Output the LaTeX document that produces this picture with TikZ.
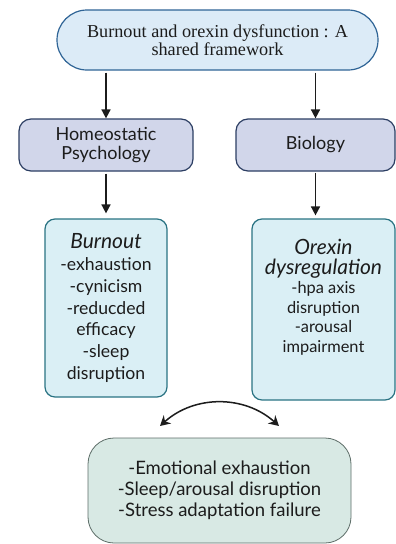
\documentclass[tikz,border=0pt]{standalone}
\usepackage{fontspec}
\setmainfont{Liberation Serif}
\setsansfont{Lato}
\usepackage{xcolor}
\usetikzlibrary{arrows.meta,positioning}

\definecolor{topfill}{HTML}{DCEBF7}
\definecolor{topline}{HTML}{2F6496}
\definecolor{midfill}{HTML}{D1D6EA}
\definecolor{midline}{HTML}{2C3E63}
\definecolor{lowfill}{HTML}{DAEFF5}
\definecolor{lowline}{HTML}{2A7383}
\definecolor{botfill}{HTML}{D8E9E4}
\definecolor{botline}{HTML}{5D6D68}
\definecolor{inkcol}{HTML}{1C1C1C}

\newcommand{\headtxt}[1]{{\itshape\fontsize{21}{24.5}\selectfont #1}}

\begin{document}
\begin{tikzpicture}[x=1pt, y=-1pt,
  topbox/.style={draw=topline, fill=topfill, line width=1.2pt, rounded corners=30pt,
                 align=center, text=inkcol, font=\fontsize{18.2}{17.5}\selectfont,
                 minimum width=321pt, minimum height=60pt, inner sep=0pt},
  midbox/.style={draw=midline, fill=midfill, line width=1.2pt, rounded corners=12pt,
                 align=center, text=inkcol, font=\sffamily\fontsize{18}{19.5}\selectfont,
                 minimum height=52pt, inner sep=0pt},
  lowbox/.style={draw=lowline, fill=lowfill, line width=1.2pt, rounded corners=10pt,
                 align=center, text=inkcol, inner sep=0pt},
  botbox/.style={draw=botline, fill=botfill, line width=0.8pt, rounded corners=26pt,
                 align=center, text=inkcol, font=\sffamily\fontsize{18.5}{21}\selectfont,
                 minimum width=263pt, minimum height=105pt, inner sep=0pt},
  arr/.style={-{Triangle[length=9pt, width=9pt]}, line width=1.6pt, draw=inkcol},
  dblarr/.style={{Stealth[length=10pt, width=11pt]}-{Stealth[length=10pt, width=11pt]},
                 line width=1.5pt, draw=inkcol}
]
\useasboundingbox (0,0) rectangle (396,544);

\node[topbox] (frame) at (217.5,40) {Burnout and orexin dysfunction : A\\shared framework};

\node[midbox, minimum width=174pt] (psy) at (106,145) {Homeostatic\\Psychology};
\node[midbox, minimum width=159pt] (bio) at (315.5,145) {Biology};

\node[lowbox, minimum width=122pt, minimum height=178pt,
      font=\sffamily\fontsize{17.6}{21.7}\selectfont] (burn) at (106,308)
  {\headtxt{Burnout}\\-exhaustion\\-cynicism\\-reducded\\efficacy\\-sleep\\disruption};
\node[lowbox, minimum width=143pt, minimum height=181pt,
      font=\sffamily\fontsize{16.4}{19.5}\selectfont] (orx) at (323.5,309.5)
  {\headtxt{Orexin}\\\headtxt{dysregulation}\\-hpa axis\\disruption\\-arousal\\impairment\\[8pt]\mbox{}};

\node[botbox] (common) at (219.5,490.5)
  {-Emotional exhaustion\\-Sleep/arousal disruption\\-Stress adaptation failure};

\coordinate (lend) at (160,426);
\coordinate (rend) at (279,426);

\draw[arr, shorten <=2pt] (frame.south -| psy.north) -- (psy.north);
\draw[arr, shorten <=2pt] (frame.south -| bio.north) -- (bio.north);
\draw[arr, shorten <=2pt, shorten >=5pt] (psy.south) -- (burn.north);
\draw[arr, shorten <=1pt, shorten >=3pt] (bio.south) -- (bio.south |- orx.north);
\draw[dblarr] (lend) to[bend left=42] (rend);
\end{tikzpicture}
\end{document}
